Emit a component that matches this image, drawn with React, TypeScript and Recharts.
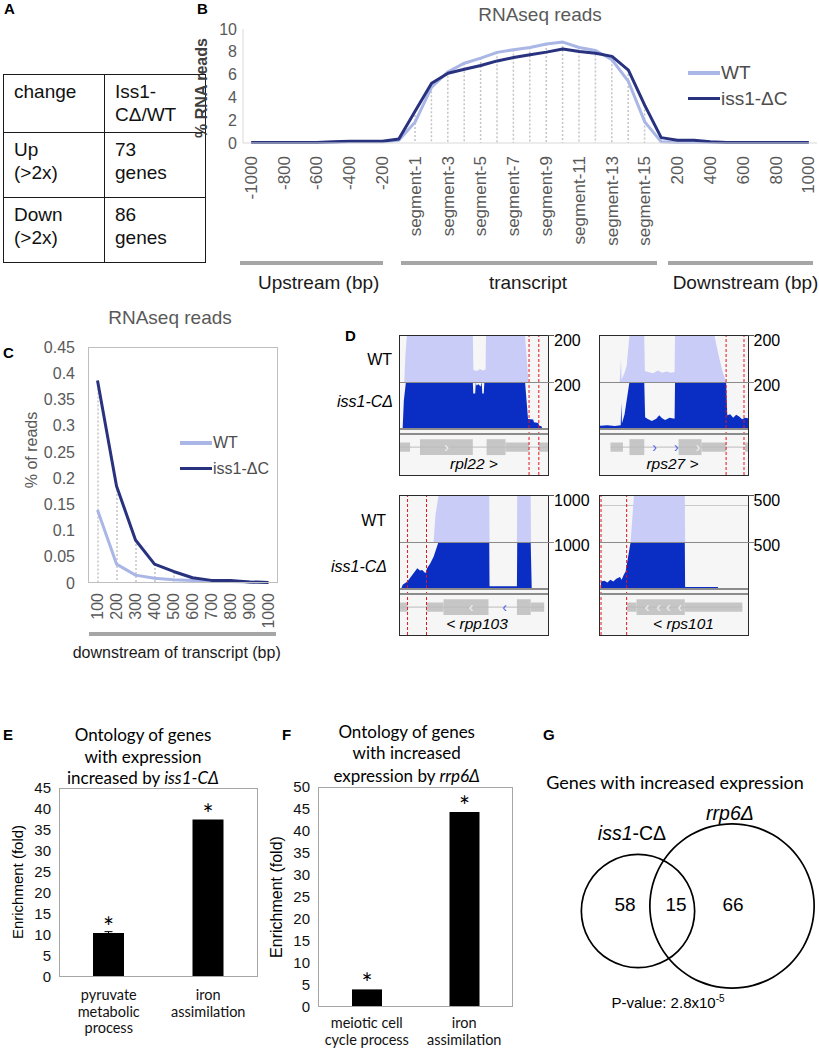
import React from 'react';
import {
  ComposedChart,
  BarChart,
  AreaChart,
  PieChart,
  Line,
  Bar,
  Area,
  Pie,
  Scatter,
  XAxis,
  YAxis,
  ReferenceLine,
  ReferenceArea,
  LabelList,
  ErrorBar
} from 'recharts';

const ARIAL = '"Liberation Sans", Arial, Helvetica, sans-serif';
const CALIBRI = 'Lato, "Open Sans", sans-serif';
const TICK_GRAY = '#595959';
const WT_COLOR = '#a9b6e6';
const ISS_COLOR = '#28327f';

// A: table
const tableRows = [
  ['change', 'Iss1-\nCΔ/WT'],
  ['Up\n(>2x)', '73\ngenes'],
  ['Down\n(>2x)', '86\ngenes']
];

// B: metagene profile
const bCategories = [
  '-1000', '-900', '-800', '-700', '-600', '-500', '-400', '-300', '-200', '-100',
  'segment-1', 'segment-2', 'segment-3', 'segment-4', 'segment-5', 'segment-6', 'segment-7', 'segment-8',
  'segment-9', 'segment-10', 'segment-11', 'segment-12', 'segment-13', 'segment-14', 'segment-15',
  '100', '200', '300', '400', '500', '600', '700', '800', '900', '1000'
];
const bWt = [
  0.05, 0.05, 0.05, 0.05, 0.05, 0.05, 0.1, 0.1, 0.12, 0.25,
  1.85, 4.9, 6.25, 7.0, 7.45, 7.95, 8.18, 8.38, 8.68, 8.85, 8.38, 8.12, 7.3, 5.4, 1.85,
  0.1, 0.05, 0.05, 0.05, 0.05, 0.05, 0.05, 0.05, 0.05, 0.05
];
const bIss = [
  0.05, 0.05, 0.05, 0.05, 0.05, 0.1, 0.15, 0.15, 0.15, 0.35,
  2.8, 5.24, 6.12, 6.47, 6.8, 7.2, 7.5, 7.74, 7.97, 8.24, 8.03, 7.88, 7.6, 6.4, 3.3,
  0.47, 0.24, 0.24, 0.1, 0.05, 0.05, 0.05, 0.05, 0.05, 0.05
];
const bTicks = [0, 2, 4, 6, 8, 10];
const seriesNames = ['WT', 'iss1-ΔC'];

// C: downstream read-through
const cCategories = ['100', '200', '300', '400', '500', '600', '700', '800', '900', '1000'];
const cWt = [0.139, 0.036, 0.015, 0.009, 0.006, 0.005, 0.004, 0.003, 0.002, 0.001];
const cIss = [0.386, 0.185, 0.082, 0.036, 0.022, 0.01, 0.005, 0.005, 0.002, 0.001];
const cTicks = [0, 0.05, 0.1, 0.15, 0.2, 0.25, 0.3, 0.35, 0.4, 0.45];

// D: browser tracks, [position % of window, coverage]
const rpl22Wt = [[0, 0], [2.9, 0], [3.6, 110], [4.6, 200], [49.2, 200], [49.6, 52], [52, 48], [54, 56], [56, 50], [57.8, 54], [58.1, 200], [84.5, 200], [86.8, 0], [100, 0]];
const rpl22Iss = [[0, 0], [1.8, 0], [2.6, 120], [4, 200], [49.2, 200], [49.5, 150], [50.8, 150], [51.2, 200], [51.6, 185], [53, 190], [54.5, 180], [55.2, 200], [55.6, 150], [56.6, 150], [57, 200], [84.5, 200], [86.5, 39], [90, 37], [90.5, 25], [93.5, 22], [94, 10], [95.6, 8], [96, 0], [100, 0]];
const rpl22Exons = [[0, 6.8, 'utr'], [13.5, 49.2, 'cds'], [58.5, 71.3, 'cds'], [71.3, 87.2, 'utr'], [93.8, 100, 'utr']];
const rpl22Span = [0, 100];
const rpl22Marks = [[31.4, '›', '#f2f2f2']];
const rpl22Red = [87.2, 93.8];

const rps27Wt = [[0, 0], [13.3, 0], [14.2, 100], [14.6, 10], [16.6, 40], [18, 70], [19.9, 200], [29.9, 200], [30.3, 48], [33, 42], [36, 38], [39, 50], [42, 40], [45, 46], [48, 40], [50.4, 44], [50.7, 200], [77.4, 200], [80, 120], [83, 40], [85.2, 0], [100, 0]];
const rps27Iss = [[0, 10], [5, 12], [10, 9], [14, 12], [14.4, 110], [14.8, 20], [16.6, 60], [18.5, 140], [19.9, 200], [29.9, 200], [30.5, 47], [32, 40], [35, 30], [38, 40], [40, 55], [42, 42], [44, 35], [47, 45], [50.4, 40], [50.7, 200], [85.2, 200], [86, 55], [88, 60], [90, 45], [92, 58], [94, 50], [96, 38], [98, 45], [100, 42]];
const rps27Exons = [[7.1, 15.5, 'utr'], [19.9, 29.9, 'cds'], [53.1, 68.6, 'cds'], [68.6, 85.2, 'utr'], [98, 100, 'utr']];
const rps27Span = [7.1, 100];
const rps27Marks = [[36.9, '›', '#4a5cf0'], [51.5, '›', '#4a5cf0'], [66.2, '›', '#f2f2f2']];
const rps27Red = [85.2, 97.3];

const rpp103Wt = [[0, 0], [22.7, 0], [24, 600], [26, 1000], [60.3, 1000], [60.5, 0], [79, 0], [79.2, 1000], [88.3, 1000], [88.5, 0], [100, 0]];
const rpp103Iss = [[0, 0], [1, 0], [1.8, 70], [5, 140], [8.4, 290], [11.7, 430], [13.5, 380], [15, 390], [17.2, 320], [18.3, 430], [20.5, 540], [22.7, 680], [24.9, 890], [26, 1000], [60.3, 1000], [60.5, 36], [79, 36], [79.2, 1000], [88.3, 1000], [89, 0], [100, 0]];
const rpp103Exons = [[0, 5.1, 'utr'], [17.9, 29.4, 'utr'], [29.4, 59.8, 'cds'], [79, 88.3, 'cds'], [88.3, 97.4, 'utr']];
const rpp103Span = [0, 97.4];
const rpp103Marks = [[48.1, '‹', '#f2f2f2'], [70.6, '‹', '#4a5cf0']];
const rpp103Red = [5.1, 17.9];

const rps101Wt = [[0, 0], [20.7, 0], [22.9, 500], [57.3, 500], [57.5, 0], [100, 0]];
const rps101Iss = [[0, 0], [0.5, 0], [0.7, 70], [3, 80], [5, 60], [7, 90], [9, 70], [11, 100], [13.5, 120], [14.6, 90], [16, 140], [17.3, 180], [20.7, 500], [57.3, 500], [57.5, 11], [79.6, 11], [79.8, 0], [100, 0]];
const rps101Exons = [[18.4, 24.7, 'utr'], [24.7, 57.3, 'cds'], [57.3, 96.2, 'utr']];
const rps101Span = [18.4, 96.2];
const rps101Marks = [[31.8, '‹', '#f2f2f2'], [39.6, '‹', '#f2f2f2'], [46.2, '‹', '#f2f2f2'], [54, '‹', '#f2f2f2']];
const rps101Red = [0.7, 18];

// E / F: GO enrichment
const eCategories = ['pyruvate\nmetabolic\nprocess', 'iron\nassimilation'];
const eValues = [10.5, 37.5];
const eErr = [0.3, 0];
const eSig = ['*', '*'];
const eTicks = [0, 5, 10, 15, 20, 25, 30, 35, 40, 45];

const fCategories = ['meiotic cell\ncycle process', 'iron\nassimilation'];
const fValues = [4, 44.3];
const fSig = ['*', '*'];
const fTicks = [0, 5, 10, 15, 20, 25, 30, 35, 40, 45, 50];

// G: overlap
const vennCounts = [58, 15, 66];
const vennTotals = [73, 81];

type TxtProps = {
  x: number;
  y: number;
  size?: number;
  font?: string;
  color?: string;
  rotate?: number;
  weight?: number | string;
  italic?: boolean;
  anchor?: 'start' | 'middle' | 'end';
  children: React.ReactNode;
};

const Txt = ({ x, y, size = 16, font = ARIAL, color = '#000', rotate = 0, weight = 400, italic = false, anchor = 'middle', children }: TxtProps) => {
  const tx = anchor === 'middle' ? '-50%' : anchor === 'end' ? '-100%' : '0';
  return (
    <div
      style={{
        position: 'absolute',
        left: x,
        top: y,
        transform: `translate(${tx}, -50%) rotate(${rotate}deg)`,
        fontSize: size,
        fontFamily: font,
        color,
        fontWeight: weight,
        fontStyle: italic ? 'italic' : 'normal',
        whiteSpace: 'nowrap',
        lineHeight: 1.15
      }}
    >
      {children}
    </div>
  );
};

const Box = ({ x, y, w, h, bg = 'transparent', border }: { x: number; y: number; w: number; h: number; bg?: string; border?: string }) => (
  <div style={{ position: 'absolute', left: x, top: y, width: w, height: h, background: bg, border, boxSizing: 'border-box', pointerEvents: 'none' }} />
);

const RotTick = (props: any) => {
  const { x, y, payload, offset, size } = props;
  const ty = y + offset;
  return (
    <text x={x} y={ty} transform={`rotate(-90 ${x} ${ty})`} textAnchor="end" dominantBaseline="central" fontSize={size} fill={TICK_GRAY} fontFamily={ARIAL}>
      {payload.value}
    </text>
  );
};

const dropShape = (props: any) => {
  const { x, y, width, height } = props;
  if (!height || height < 2) return <g />;
  const cx = x + width / 2;
  return <line x1={cx} x2={cx} y1={y} y2={y + height} stroke="#c4c4c4" strokeWidth={1.5} strokeDasharray="2 2" />;
};

const LineLegend = ({ x, y, gap, len, size }: { x: number; y: number; gap: number; len: number; size: number }) => (
  <>
    {seriesNames.map((name, i) => (
      <React.Fragment key={name}>
        <Box x={x} y={y + i * gap - 1.75} w={len} h={3.5} bg={i === 0 ? WT_COLOR : ISS_COLOR} />
        <Txt x={x + len + 1} y={y + i * gap} anchor="start" size={size} color="#4d4d4d">
          {name}
        </Txt>
      </React.Fragment>
    ))}
  </>
);

const CatTick = (props: any) => {
  const { x, y, payload, first } = props;
  const lines = String(payload.value).split('\n');
  return (
    <text x={x} y={y + first} textAnchor="middle" fontSize={14.5} fontFamily={CALIBRI} fill="#111">
      {lines.map((l, i) => (
        <tspan key={i} x={x} dy={i === 0 ? 0 : 16.7}>
          {l}
        </tspan>
      ))}
    </text>
  );
};

const sigLabel = (props: any) => {
  const { x, y, width, value } = props;
  return (
    <text x={x + width / 2} y={y + 4} textAnchor="middle" fontSize={26} fontFamily={CALIBRI} fill="#000">
      {value}
    </text>
  );
};

const TRACK_W = 148;

const Track = ({ pts, max, color, height, red }: { pts: number[][]; max: number; color: string; height: number; red: number[] }) => {
  const data = pts.map(([x, v]) => ({ x, v }));
  return (
    <AreaChart width={TRACK_W} height={height} data={data} margin={{ top: 0, right: 0, bottom: 0, left: 0 }}>
      <XAxis dataKey="x" type="number" domain={[0, 100]} hide />
      <YAxis type="number" domain={[0, max]} hide allowDataOverflow />
      <Area dataKey="v" type="linear" stroke="none" fill={color} fillOpacity={1} isAnimationActive={false} />
      {red.map((r) => (
        <ReferenceLine key={r} x={r} stroke="#e3151f" strokeDasharray="3 2" strokeWidth={1} />
      ))}
    </AreaChart>
  );
};

const chevronShape = (props: any) => {
  const { cx, cy, payload } = props;
  return (
    <text x={cx} y={cy} textAnchor="middle" dominantBaseline="central" fontSize={14} fontFamily={ARIAL} fill={payload.c}>
      {payload.ch}
    </text>
  );
};

const GeneModel = ({ exons, span, marks, red, height }: { exons: any[]; span: number[]; marks: any[]; red: number[]; height: number }) => {
  const data = marks.map(([x, ch, c]) => ({ x, y: 0, ch, c }));
  return (
    <ComposedChart width={TRACK_W} height={height} data={data} margin={{ top: 0, right: 0, bottom: 0, left: 0 }}>
      <XAxis dataKey="x" type="number" domain={[0, 100]} hide />
      <YAxis dataKey="y" type="number" domain={[-1.75, 1.2]} hide />
      <ReferenceLine segment={[{ x: span[0], y: 0 }, { x: span[1], y: 0 }]} stroke="#bdbdbd" strokeWidth={1} />
      {exons.map(([a, b, k]) => (
        <ReferenceArea key={a} x1={a} x2={b} y1={k === 'cds' ? -0.5 : -0.29} y2={k === 'cds' ? 0.5 : 0.29} fill="#c6c6c6" fillOpacity={1} stroke="none" />
      ))}
      <Scatter dataKey="y" shape={chevronShape} isAnimationActive={false} />
      {red.map((r) => (
        <ReferenceLine key={r} x={r} stroke="#e3151f" strokeDasharray="3 2" strokeWidth={1} />
      ))}
    </ComposedChart>
  );
};

type DPanelProps = {
  left: number;
  top: number;
  wt: number[][];
  iss: number[][];
  max: number;
  exons: any[];
  span: number[];
  marks: any[];
  red: number[];
  gene: React.ReactNode;
  geneX: number;
  guide?: boolean;
};

const DPanel = ({ left, top, wt, iss, max, exons, span, marks, red, gene, geneX, guide }: DPanelProps) => (
  <div style={{ position: 'absolute', left, top, width: TRACK_W, border: '1.5px solid #2a2a2a', background: '#f6f6f6' }}>
    <div style={{ position: 'relative', height: 46 }}>
      {guide && <Box x={0} y={9} w={TRACK_W} h={1} bg="#c9c9c9" />}
      <div style={{ position: 'absolute', left: 0, top: 0 }}>
        <Track pts={wt} max={max} color="#c9ccf7" height={46} red={red} />
      </div>
    </div>
    <Track pts={iss} max={max} color="#0a2ec4" height={46} red={red} />
    <div style={{ position: 'relative', height: 47 }}>
      <GeneModel exons={exons} span={span} marks={marks} red={red} height={47} />
      <Box x={0} y={0} w={TRACK_W} h={2} bg="#8c8c8c" />
      <Box x={0} y={5} w={TRACK_W} h={2} bg="#8c8c8c" />
      <Txt x={geneX} y={36} size={15.5} italic>
        {gene}
      </Txt>
    </div>
    <Box x={TRACK_W} y={-1.5} w={6} h={1} bg="#555" />
    <Box x={0} y={45.5} w={TRACK_W + 6} h={1} bg="#8a8a8a" />
    <Txt x={TRACK_W + 6} y={4.5} anchor="start" size={16}>
      {max}
    </Txt>
    <Txt x={TRACK_W + 6} y={50} anchor="start" size={16}>
      {max}
    </Txt>
  </div>
);

const App = () => {
  const bData = bCategories.map((cat, i) => ({ cat, wt: bWt[i], iss: bIss[i], top: Math.max(bWt[i], bIss[i]) }));
  const cData = cCategories.map((cat, i) => ({ cat, wt: cWt[i], iss: cIss[i], top: Math.max(cWt[i], cIss[i]) }));
  const eData = eCategories.map((cat, i) => ({ cat, v: eValues[i], err: eErr[i], sig: eSig[i] }));
  const fData = fCategories.map((cat, i) => ({ cat, v: fValues[i], sig: fSig[i] }));
  const label = (t: string, x: number, y: number) => (
    <Txt x={x} y={y} anchor="start" size={15} weight={700}>
      {t}
    </Txt>
  );

  return (
    <div style={{ position: 'absolute', left: 0, top: 0, width: 819, height: 1050, background: '#fff', overflow: 'hidden', fontFamily: ARIAL }}>
      {label('A', 4, 9)}
      {label('B', 197, 9)}
      {label('C', 3, 353)}
      {label('D', 345, 336)}
      {label('E', 3, 735)}
      {label('F', 282, 735)}
      {label('G', 543, 735)}

      {/* A */}
      <table
        style={{
          position: 'absolute',
          left: 3,
          top: 74,
          width: 172,
          borderCollapse: 'collapse',
          tableLayout: 'fixed',
          fontFamily: ARIAL,
          fontSize: 19,
          lineHeight: '23px',
          color: '#111'
        }}
      >
        <tbody>
          {tableRows.map((row, ri) => (
            <tr key={ri} style={{ height: ri === 0 ? 58 : 65 }}>
              {row.map((cell, ci) => (
                <td key={ci} style={{ border: '1.5px solid #1a1a1a', verticalAlign: 'top', padding: '5px 4px 0 10px', width: 86 }}>
                  {cell.split('\n').map((l, li) => (
                    <div key={li}>{l}</div>
                  ))}
                </td>
              ))}
            </tr>
          ))}
        </tbody>
      </table>

      {/* B */}
      <Txt x={540} y={15} size={19} color={TICK_GRAY}>
        RNAseq reads
      </Txt>
      <Txt x={202} y={88} size={16} weight={700} rotate={-90} color="#404040">
        % RNA reads
      </Txt>
      <div style={{ position: 'absolute', left: 195, top: 0 }}>
        <ComposedChart width={624} height={262} data={bData} margin={{ top: 29, right: 2, bottom: 0, left: 0 }}>
          <XAxis
            dataKey="cat"
            interval={1}
            height={119}
            tickLine={false}
            tickSize={0}
            tickMargin={0}
            axisLine={{ stroke: '#d9d9d9' }}
            tick={(p: any) => <RotTick {...p} offset={13} size={17} />}
          />
          <YAxis
            width={48}
            domain={[0, 10]}
            ticks={bTicks}
            interval={0}
            tickLine={false}
            tickSize={0}
            tickMargin={6}
            axisLine={{ stroke: '#d9d9d9' }}
            tick={{ fill: TICK_GRAY, fontSize: 16, fontFamily: ARIAL }}
          />
          <Bar dataKey="top" barSize={2} shape={dropShape} isAnimationActive={false} />
          <Line dataKey="wt" name={seriesNames[0]} stroke={WT_COLOR} strokeWidth={3} dot={false} strokeLinejoin="round" isAnimationActive={false} />
          <Line dataKey="iss" name={seriesNames[1]} stroke={ISS_COLOR} strokeWidth={3} dot={false} strokeLinejoin="round" isAnimationActive={false} />
        </ComposedChart>
      </div>
      <LineLegend x={688} y={73} gap={25.6} len={32} size={19} />
      <Box x={239.5} y={261} w={143} h={4.3} bg="#a6a6a6" />
      <Box x={400.8} y={261} w={256.5} h={4.3} bg="#a6a6a6" />
      <Box x={667.6} y={261} w={145} h={4.3} bg="#a6a6a6" />
      <Txt x={318.7} y={283} size={19} color="#1a1a1a">
        Upstream (bp)
      </Txt>
      <Txt x={528} y={283} size={19} color="#1a1a1a">
        transcript
      </Txt>
      <Txt x={745.5} y={283} size={19} color="#1a1a1a">
        Downstream (bp)
      </Txt>

      {/* C */}
      <Txt x={170} y={318} size={19} color={TICK_GRAY}>
        RNAseq reads
      </Txt>
      <Txt x={32} y={450} size={16} rotate={-90} color={TICK_GRAY}>
        % of reads
      </Txt>
      <div style={{ position: 'absolute', left: 0, top: 300 }}>
        <ComposedChart width={290} height={340} data={cData} margin={{ top: 47, right: 12, bottom: 0, left: 0 }}>
          <XAxis
            dataKey="cat"
            interval={0}
            height={57}
            tickLine={false}
            tickSize={0}
            tickMargin={0}
            axisLine={false}
            tick={(p: any) => <RotTick {...p} offset={10} size={16} />}
          />
          <YAxis
            width={88}
            domain={[0, 0.45]}
            ticks={cTicks}
            interval={0}
            tickLine={false}
            tickSize={0}
            tickMargin={13}
            axisLine={false}
            tick={{ fill: TICK_GRAY, fontSize: 16, fontFamily: ARIAL }}
          />
          <Bar dataKey="top" barSize={2} shape={dropShape} isAnimationActive={false} />
          <Line dataKey="wt" name={seriesNames[0]} stroke={WT_COLOR} strokeWidth={3} dot={false} strokeLinejoin="round" isAnimationActive={false} />
          <Line dataKey="iss" name={seriesNames[1]} stroke={ISS_COLOR} strokeWidth={3} dot={false} strokeLinejoin="round" isAnimationActive={false} />
        </ComposedChart>
      </div>
      <Box x={88} y={347} w={190} h={236} border="1.5px solid #bfbfbf" />
      <LineLegend x={180} y={443} gap={25.6} len={32} size={16} />
      <Box x={89} y={632} w={187} h={4.3} bg="#a6a6a6" />
      <Txt x={176.7} y={653} size={16} color="#1a1a1a">
        downstream of transcript (bp)
      </Txt>

      {/* D */}
      <Txt x={392} y={360} anchor="end" size={16}>
        WT
      </Txt>
      <Txt x={393} y={402} anchor="end" size={16} italic>
        iss1-CΔ
      </Txt>
      <Txt x={386} y={521} anchor="end" size={16}>
        WT
      </Txt>
      <Txt x={387} y={567} anchor="end" size={16} italic>
        iss1-CΔ
      </Txt>
      <DPanel left={399} top={335} wt={rpl22Wt} iss={rpl22Iss} max={200} exons={rpl22Exons} span={rpl22Span} marks={rpl22Marks} red={rpl22Red} gene="rpl22 >" geneX={74} />
      <DPanel left={598.5} top={335} wt={rps27Wt} iss={rps27Iss} max={200} exons={rps27Exons} span={rps27Span} marks={rps27Marks} red={rps27Red} gene="rps27 >" geneX={73} />
      <DPanel left={399} top={495} wt={rpp103Wt} iss={rpp103Iss} max={1000} exons={rpp103Exons} span={rpp103Span} marks={rpp103Marks} red={rpp103Red} gene="< rpp103" geneX={77} />
      <DPanel left={598.5} top={495} wt={rps101Wt} iss={rps101Iss} max={500} exons={rps101Exons} span={rps101Span} marks={rps101Marks} red={rps101Red} gene="< rps101" geneX={84} guide />

      {/* E */}
      <Txt x={143} y={735} size={17} font={CALIBRI}>
        Ontology of genes
      </Txt>
      <Txt x={143} y={756.7} size={17} font={CALIBRI}>
        with expression
      </Txt>
      <Txt x={143} y={778.3} size={17} font={CALIBRI}>
        increased by <i>iss1-CΔ</i>
      </Txt>
      <Txt x={18} y={882} size={15} rotate={-90}>
        Enrichment (fold)
      </Txt>
      <div style={{ position: 'absolute', left: 0, top: 780 }}>
        <BarChart width={270} height={262} data={eData} margin={{ top: 8, right: 12, bottom: 0, left: 0 }}>
          <XAxis dataKey="cat" height={65} axisLine={false} tickLine={false} tickSize={0} tickMargin={0} interval={0} tick={(p: any) => <CatTick {...p} first={23} />} />
          <YAxis width={59} domain={[0, 45]} ticks={eTicks} interval={0} axisLine={false} tickLine={false} tickSize={0} tickMargin={8} tick={{ fill: '#111', fontSize: 15, fontFamily: ARIAL }} />
          <Bar dataKey="v" fill="#000" barSize={31} isAnimationActive={false}>
            <ErrorBar dataKey="err" width={4} stroke="#000" strokeWidth={1} direction="y" />
            <LabelList dataKey="sig" content={sigLabel} />
          </Bar>
        </BarChart>
      </div>
      <Box x={59} y={788} w={199} h={189} border="1.5px solid #a6a6a6" />

      {/* F */}
      <Txt x={406.7} y={731.7} size={17} font={CALIBRI}>
        Ontology of genes
      </Txt>
      <Txt x={406.7} y={753.3} size={17} font={CALIBRI}>
        with increased
      </Txt>
      <Txt x={406.7} y={776} size={17} font={CALIBRI}>
        expression by <i>rrp6Δ</i>
      </Txt>
      <Txt x={277} y={897} size={16} rotate={-90}>
        Enrichment (fold)
      </Txt>
      <div style={{ position: 'absolute', left: 270, top: 778 }}>
        <BarChart width={255} height={272} data={fData} margin={{ top: 9, right: 12, bottom: 0, left: 0 }}>
          <XAxis dataKey="cat" height={43} axisLine={false} tickLine={false} tickSize={0} tickMargin={0} interval={0} tick={(p: any) => <CatTick {...p} first={21} />} />
          <YAxis width={48} domain={[0, 50]} ticks={fTicks} interval={0} axisLine={false} tickLine={false} tickSize={0} tickMargin={8} tick={{ fill: '#111', fontSize: 15, fontFamily: ARIAL }} />
          <Bar dataKey="v" fill="#000" barSize={30} isAnimationActive={false}>
            <LabelList dataKey="sig" content={sigLabel} />
          </Bar>
        </BarChart>
      </div>
      <Box x={318} y={787} w={195} h={220} border="1.5px solid #a6a6a6" />

      {/* G */}
      <Txt x={675} y={782} size={18} font={CALIBRI}>
        Genes with increased expression
      </Txt>
      <div style={{ position: 'absolute', left: 540, top: 760 }}>
        <PieChart width={279} height={240}>
          <Pie data={[{ v: vennTotals[0] }]} dataKey="v" cx={93} cy={146} innerRadius={55.8} outerRadius={57.5} startAngle={90} endAngle={-270} fill="#000" stroke="none" isAnimationActive={false} />
          <Pie data={[{ v: vennTotals[1] }]} dataKey="v" cx={187} cy={141} innerRadius={81.3} outerRadius={83} startAngle={90} endAngle={-270} fill="#000" stroke="none" isAnimationActive={false} />
        </PieChart>
      </div>
      <Txt x={632} y={833} size={19.5}>
        <i>iss1</i>-CΔ
      </Txt>
      <Txt x={730} y={813} size={19.5} italic>
        rrp6Δ
      </Txt>
      <Txt x={625} y={905} size={19}>
        {vennCounts[0]}
      </Txt>
      <Txt x={676} y={905} size={19}>
        {vennCounts[1]}
      </Txt>
      <Txt x={733} y={905} size={19}>
        {vennCounts[2]}
      </Txt>
      <Txt x={668} y={1002} size={15}>
        P-value: 2.8x10<sup style={{ fontSize: 10 }}>-5</sup>
      </Txt>
    </div>
  );
};

export default App;
